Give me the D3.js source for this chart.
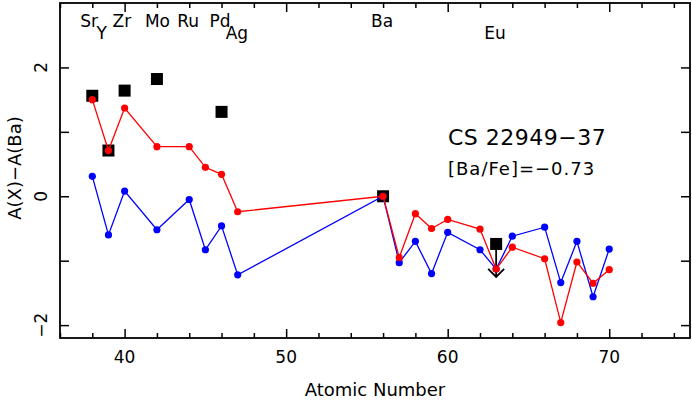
<!DOCTYPE html>
<html>
<head>
<meta charset="utf-8">
<script src="https://cdn.jsdelivr.net/npm/d3@7"></script>
<style>
	body { margin: 0; background: #fff; }
	text { font-family: "DejaVu Sans", sans-serif; fill: #000; }
</style>
</head>
<body>
<svg id="chart" width="692" height="402"></svg>
<script>
// element labels along the top
var labelNames = ["Sr", "Y", "Zr", "Mo", "Ru", "Pd", "Ag", "Ba", "Eu"];
var labelZ = [38, 39, 40, 42, 44, 46, 47, 56, 63];
var labelRow = [0, 1, 0, 0, 0, 0, 1, 0, 1];

// observed abundances (black squares), last one an upper limit
var obsZ = [38, 39, 40, 42, 46, 56, 63];
var obsVal = [1.56, 0.71, 1.64, 1.82, 1.31, 0.0, -0.74];
var obsUpper = [false, false, false, false, false, false, true];

// model curves
var modelZ = [38, 39, 40, 42, 44, 45, 46, 47, 56, 57, 58, 59, 60, 62, 63, 64, 66, 67, 68, 69, 70];
var redVal = [1.50, 0.71, 1.37, 0.77, 0.77, 0.45, 0.34, -0.24, 0.0, -0.95, -0.27, -0.50, -0.36, -0.51, -1.13, -0.79, -0.97, -1.96, -1.02, -1.35, -1.14];
var blueVal = [0.31, -0.60, 0.08, -0.52, -0.05, -0.83, -0.46, -1.22, 0.0, -1.03, -0.70, -1.20, -0.56, -0.83, -1.13, -0.62, -0.48, -1.34, -0.70, -1.56, -0.82];

var xTickLabels = [40, 50, 60, 70];
var yTickLabels = [-2, 0, 2];

var margin = { top: 3, right: 2, bottom: 64, left: 60 },
	width = 692 - margin.left - margin.right,
	height = 402 - margin.top - margin.bottom;

var svg = d3.select("#chart");
var g = svg.append("g").attr("transform", "translate(" + margin.left + "," + margin.top + ")");

var x = d3.scaleLinear().domain([36, 75]).range([0, width]);
var y = d3.scaleLinear().domain([-2.2, 3]).range([height, 0]);

// ticks: minor every 2, major every 10 on x; every 1 on y
var xMinor = d3.range(36, 76, 2);
function xTickLen(d) { return d % 10 === 0 ? 9 : 5; }

function xAxis(axisFn, ty) {
	var a = g.append("g").attr("transform", "translate(0," + ty + ")")
		.call(axisFn(x).tickValues(xMinor).tickSize(0).tickFormat(""));
	a.select(".domain").remove();
	a.selectAll(".tick").append("line")
		.attr("y1", 0)
		.attr("y2", function (d) { return axisFn === d3.axisBottom ? -xTickLen(d) : xTickLen(d); })
		.attr("stroke", "#000").attr("stroke-width", 1.5);
}
xAxis(d3.axisBottom, height);
xAxis(d3.axisTop, 0);

function yAxis(axisFn, tx) {
	var a = g.append("g").attr("transform", "translate(" + tx + ",0)")
		.call(axisFn(y).tickValues(d3.range(-2, 3, 1)).tickSize(-9).tickFormat(""));
	a.select(".domain").remove();
	a.selectAll(".tick line").attr("stroke", "#000").attr("stroke-width", 1.5);
}
yAxis(d3.axisLeft, 0);
yAxis(d3.axisRight, width);

// frame
g.append("rect")
	.attr("width", width).attr("height", height)
	.attr("fill", "none").attr("stroke", "#000").attr("stroke-width", 1.8);

// tick labels
g.selectAll(".xlab").data(xTickLabels).enter().append("text")
	.attr("x", function (d) { return x(d); })
	.attr("y", height + 25)
	.attr("text-anchor", "middle")
	.style("font-size", "17px")
	.text(function (d) { return d; });

g.selectAll(".ylab").data(yTickLabels).enter().append("text")
	.attr("transform", function (d) { return "translate(-13," + y(d) + ") rotate(-90)"; })
	.attr("text-anchor", "middle")
	.style("font-size", "17px")
	.text(function (d) { return d < 0 ? "\u2212" + Math.abs(d) : d; });

// axis titles
svg.append("text")
	.attr("x", margin.left + width / 2)
	.attr("y", 396)
	.attr("text-anchor", "middle")
	.style("font-size", "18px")
	.text("Atomic Number");

svg.append("text")
	.attr("transform", "translate(21," + 168 + ") rotate(-90)")
	.attr("text-anchor", "middle")
	.style("font-size", "18px")
	.text("A(X)\u2212A(Ba)");

// element names
g.selectAll(".elab").data(labelNames).enter().append("text")
	.attr("x", function (d, i) { return x(labelZ[i]) - 12; })
	.attr("y", function (d, i) { return labelRow[i] ? 36 : 24; })
	.style("font-size", "17px")
	.text(function (d) { return d; });

// observed squares
g.selectAll(".obs").data(obsZ).enter().append("rect")
	.attr("x", function (d) { return x(d) - 6; })
	.attr("y", function (d, i) { return y(obsVal[i]) - 6; })
	.attr("width", 12).attr("height", 12)
	.attr("fill", "#000");

// upper limit arrow
obsZ.forEach(function (z, i) {
	if (!obsUpper[i]) return;
	var cx = x(z), cy = y(obsVal[i]), tip = cy + 33;
	g.append("path")
		.attr("d", "M" + cx + "," + cy + "V" + tip + "M" + (cx - 8) + "," + (tip - 8) + "L" + cx + "," + tip + "L" + (cx + 8) + "," + (tip - 8))
		.attr("fill", "none").attr("stroke", "#000").attr("stroke-width", 1.8);
});

function drawSeries(vals, color) {
	var line = d3.line()
		.x(function (d, i) { return x(modelZ[i]); })
		.y(function (d) { return y(d); });
	g.append("path").datum(vals)
		.attr("d", line)
		.attr("fill", "none").attr("stroke", color).attr("stroke-width", 1.3);
	g.append("g").selectAll("circle").data(vals).enter().append("circle")
		.attr("cx", function (d, i) { return x(modelZ[i]); })
		.attr("cy", function (d) { return y(d); })
		.attr("r", 3.6)
		.attr("fill", color);
}
drawSeries(blueVal, "#0000ff");
drawSeries(redVal, "#ff0000");

// star name and [Ba/Fe]
g.append("text")
	.attr("x", 388).attr("y", 142)
	.style("font-size", "22px")
	.style("letter-spacing", "0.5px")
	.text("CS 22949\u221237");
g.append("text")
	.attr("x", 388).attr("y", 172)
	.style("font-size", "18px")
	.style("letter-spacing", "1px")
	.text("[Ba/Fe]=\u22120.73");
</script>
</body>
</html>
